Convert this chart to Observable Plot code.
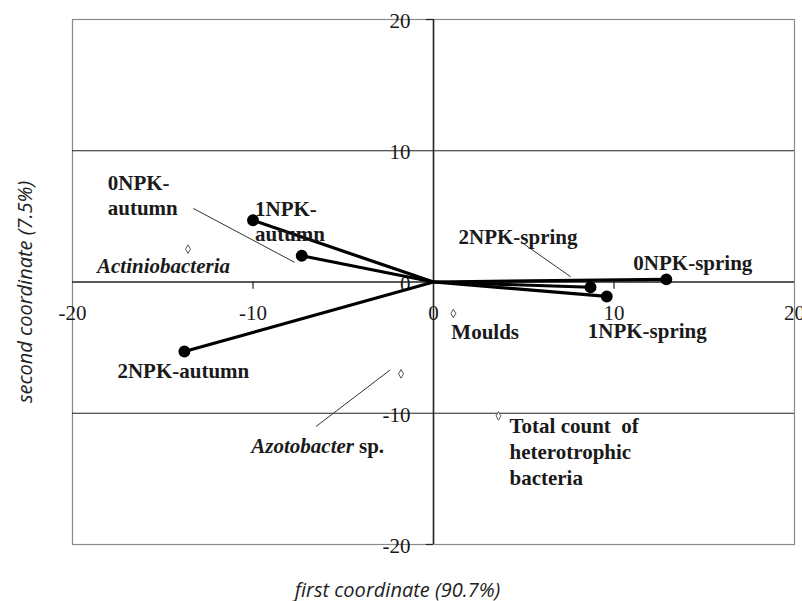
<!DOCTYPE html>
<html>
<head>
<meta charset="utf-8">
<script src="https://cdn.jsdelivr.net/npm/d3@7"></script>
<script src="https://cdn.jsdelivr.net/npm/@observablehq/plot@0.6"></script>
<style>
  html, body { margin: 0; padding: 0; background: #fff; }
  #chart svg { display: block; }
</style>
</head>
<body>
<div id="chart"></div>
<script>
// ---- data ----
const treatments = ["0NPK-autumn", "1NPK-autumn", "2NPK-autumn", "0NPK-spring", "1NPK-spring", "2NPK-spring"];
const treatX = [-7.3, -10.0, -13.8, 12.9, 9.6, 8.7];
const treatY = [2.0, 4.7, -5.3, 0.2, -1.1, -0.4];

const species = ["Actiniobacteria", "Moulds", "Azotobacter", "Total count of heterotrophic bacteria"];
const speciesX = [-13.6, 1.1, -1.8, 3.6];
const speciesY = [2.5, -2.4, -7.0, -10.2];

const tickValues = [-20, -10, 0, 10, 20];
const gridValues = [-10, 10];
const xTitle = "first coordinate (90.7%)";
const yTitle = "second coordinate (7.5%)";

// ---- tables built from arrays ----
const T = treatments.map((name, i) => ({name, x: treatX[i], y: treatY[i]}));
const S = species.map((name, i) => ({name, x: speciesX[i], y: speciesY[i]}));

// label presentation (text and pixel offsets from each point)
const tLabel = {
  "0NPK-autumn": {text: "0NPK-\nautumn", dx: -194, dy: -61},
  "1NPK-autumn": {text: "1NPK-\nautumn", dx: 2, dy: 0},
  "2NPK-autumn": {text: "2NPK-autumn", dx: -67, dy: 18},
  "0NPK-spring": {text: "0NPK-spring", dx: -33, dy: -17},
  "1NPK-spring": {text: "1NPK-spring", dx: -19, dy: 33},
  "2NPK-spring": {text: "2NPK-spring", dx: -132, dy: -51}
};
const sLabel = {
  "Actiniobacteria": {dx: -91, dy: 17},
  "Moulds": {dx: -2, dy: 17},
  "Azotobacter": {dx: -47, dy: 72},
  "Total count of heterotrophic bacteria": {dx: 11, dy: 35, text: "Total count  of\nheterotrophic\nbacteria"}
};
// leader lines (annotation anchors in data space)
const leaders = [
  {x1: -13.3, y1: 5.6, x2: -7.7, y2: 1.5},
  {x1: 4.9, y1: 3.0, x2: 7.6, y2: 0.4},
  {x1: -6.5, y1: -11.0, x2: -2.4, y2: -6.7}
];

const serif = "'Liberation Serif', 'Times New Roman', serif";
const sans = "'Open Sans', sans-serif";
const ink = "#1a1a1a";
const LABEL_SIZE = 21;

function labelMarks(rows, cfg, opts) {
  return rows.map(d => Plot.text([d], {
    x: "x", y: "y",
    text: r => (cfg[r.name].text ?? r.name),
    dx: cfg[d.name].dx, dy: cfg[d.name].dy,
    textAnchor: "start", lineAnchor: "middle",
    ...opts
  }));
}

const plot = Plot.plot({
  width: 802,
  height: 601,
  marginLeft: 72,
  marginRight: 8,
  marginTop: 19,
  marginBottom: 57,
  x: {domain: [-20, 20], axis: null},
  y: {domain: [-20, 20], axis: null},
  style: {fontFamily: serif, color: ink, background: "#fff", overflow: "visible"},
  marks: [
    Plot.frame({stroke: "#8a8a8a", strokeWidth: 1.2}),
    Plot.ruleY(gridValues, {stroke: "#222", strokeWidth: 1.2}),
    Plot.ruleY([0], {stroke: "#222", strokeWidth: 1.6}),
    Plot.ruleX([0], {stroke: "#222", strokeWidth: 1.6}),
    // small tick marks
    Plot.ruleX(tickValues.filter(v => v !== 0 && Math.abs(v) !== 20), {y1: 0, y2: -0.55, stroke: "#222", strokeWidth: 1.2}),
    Plot.ruleY(tickValues.filter(v => Math.abs(v) === 20), {x1: -0.4, x2: 0, stroke: "#222", strokeWidth: 1.2}),
    // tick labels
    Plot.text(tickValues, {x: d => d, y: 0, text: d => String(d), dy: 31, fontSize: 21, fill: ink}),
    Plot.text(tickValues, {x: 0, y: d => d, text: d => String(d), dx: -23, dy: 2, textAnchor: "end", fontSize: 21, fill: ink}),
    // leader lines
    Plot.link(leaders, {x1: "x1", y1: "y1", x2: "x2", y2: "y2", stroke: "#333", strokeWidth: 1}),
    // vectors
    Plot.link(T, {x1: 0, y1: 0, x2: "x", y2: "y", stroke: "#000", strokeWidth: 3.2}),
    Plot.dot(T, {x: "x", y: "y", r: 5.2, fill: "#000", stroke: "#000"}),
    // species points
    Plot.dot(S, {x: "x", y: "y", symbol: "diamond", r: 2.6, fill: "#fff", stroke: "#555", strokeWidth: 1}),
    // treatment labels
    ...labelMarks(T, tLabel, {fontSize: LABEL_SIZE, fontWeight: "bold", lineHeight: 1.2, fill: ink}),
    // species labels
    ...labelMarks(S.filter(d => d.name === "Actiniobacteria"), sLabel, {fontSize: LABEL_SIZE, fontWeight: "bold", fontStyle: "italic", fill: ink}),
    ...labelMarks(S.filter(d => d.name === "Moulds" || d.name.startsWith("Total")), sLabel, {fontSize: LABEL_SIZE, fontWeight: "bold", lineHeight: 1.22, fill: ink}),
    Plot.text(S.filter(d => d.name === "Azotobacter"), {x: "x", y: "y", text: "name", dx: sLabel["Azotobacter"].dx, dy: sLabel["Azotobacter"].dy, textAnchor: "end", fontSize: LABEL_SIZE, fontWeight: "bold", fontStyle: "italic", fill: ink}),
    Plot.text(S.filter(d => d.name === "Azotobacter"), {x: "x", y: "y", text: () => "sp.", dx: sLabel["Azotobacter"].dx + 5, dy: sLabel["Azotobacter"].dy, textAnchor: "start", fontSize: LABEL_SIZE, fontWeight: "bold", fill: ink}),
    // axis titles
    Plot.text([xTitle], {frameAnchor: "bottom", text: d => d, dx: -36, dy: 46, textAnchor: "middle", lineAnchor: "middle", fontSize: 20, fontStyle: "italic", fontFamily: sans, fill: "#222"}),
    Plot.text([yTitle], {frameAnchor: "left", text: d => d, rotate: -90, dx: -47, dy: 10, textAnchor: "middle", lineAnchor: "middle", fontSize: 20, fontStyle: "italic", fontFamily: sans, fill: "#222"})
  ]
});
document.getElementById("chart").appendChild(plot);
</script>
</body>
</html>
